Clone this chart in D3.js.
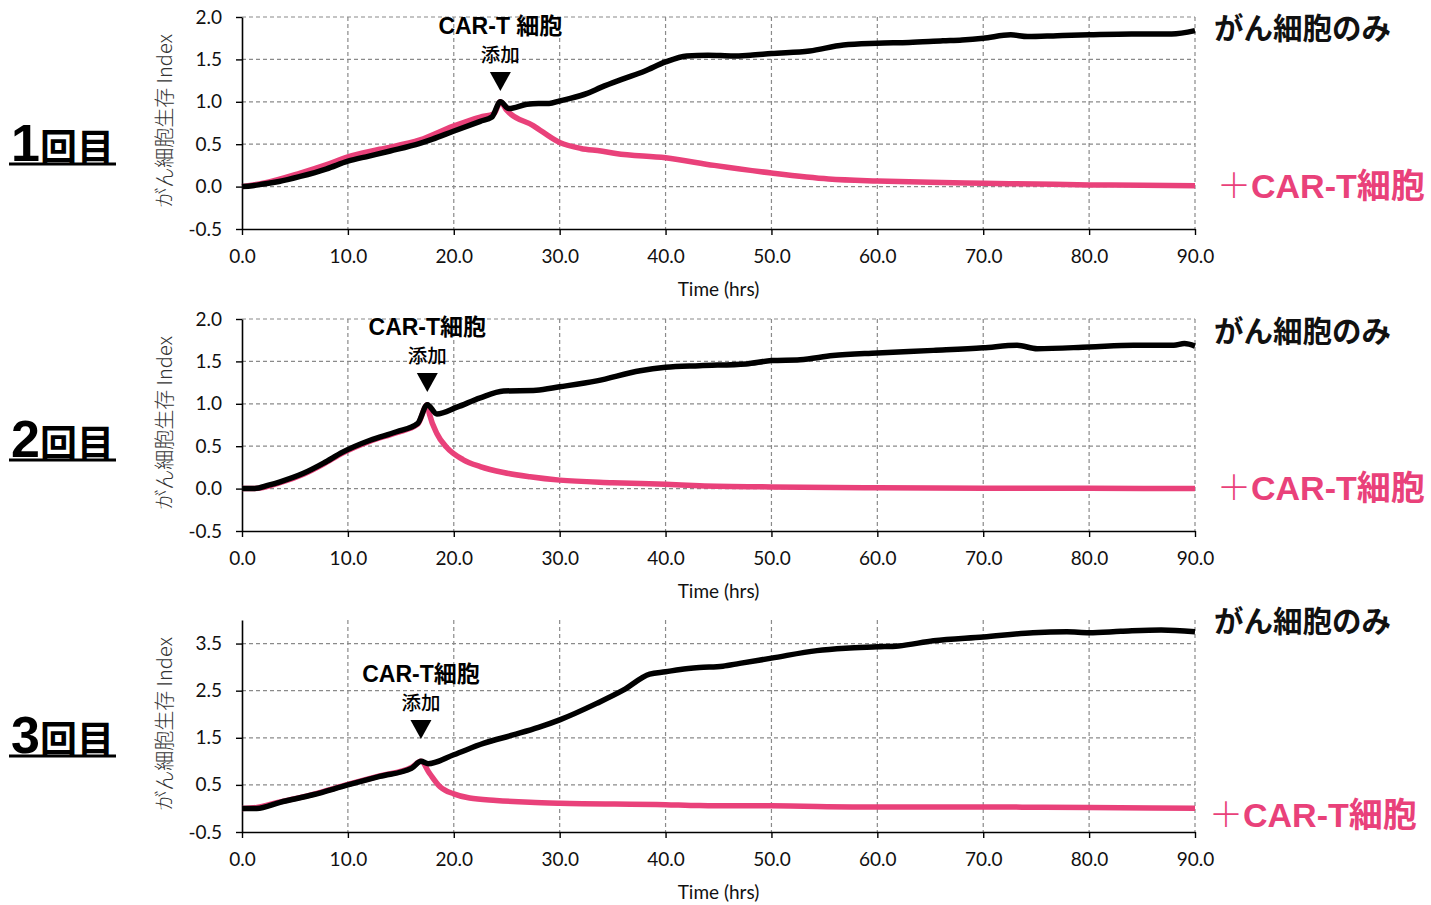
<!DOCTYPE html>
<html>
<head>
<meta charset="utf-8">
<script src="https://cdn.jsdelivr.net/npm/d3@7"></script>
<style>
  body { margin: 0; background: #fff; }
  svg { display: block; }
</style>
</head>
<body>
<svg width="1431" height="905"></svg>
<script>
// time points (hrs) and index values
const r1Time  = [0, 1, 2, 3.5, 5.5, 8, 10, 12, 14, 16.8, 18, 19.9, 22.5, 23.6, 24.4, 25.2, 26.9, 28, 29, 30, 31, 32.6, 33.9, 36, 38, 40, 42, 44, 46.4, 48, 50, 53.6, 56.8, 60, 63, 66.2, 68, 70, 72.6, 74.2, 77, 80, 84, 87.8, 90];
const r1Cancer = [0, 0.01, 0.03, 0.06, 0.12, 0.21, 0.3, 0.36, 0.42, 0.51, 0.56, 0.65, 0.77, 0.82, 1.0, 0.92, 0.97, 0.98, 0.98, 1.01, 1.04, 1.1, 1.17, 1.27, 1.36, 1.47, 1.54, 1.55, 1.54, 1.55, 1.57, 1.6, 1.67, 1.69, 1.7, 1.72, 1.73, 1.75, 1.79, 1.77, 1.78, 1.79, 1.8, 1.8, 1.84];
const r1CarTime = [0, 2, 5.5, 8, 10, 13, 16.8, 19.9, 22.5, 23.8, 24.4, 25, 27.5, 30, 32, 33.9, 35.3, 40, 44.6, 50, 55.4, 60, 65, 70, 75, 80, 85, 90];
const r1CarT   = [0, 0.04, 0.16, 0.26, 0.35, 0.44, 0.55, 0.71, 0.82, 0.86, 1.0, 0.9, 0.72, 0.52, 0.45, 0.42, 0.39, 0.34, 0.25, 0.16, 0.09, 0.066, 0.05, 0.04, 0.03, 0.02, 0.015, 0.01];

const r2Time  = [0, 1.2, 2.5, 3.6, 5.8, 7.7, 9.5, 12.1, 14.6, 16.6, 17.5, 18.4, 20.3, 22.5, 24.7, 27.8, 30, 33.5, 37.6, 40, 43.2, 47.6, 50, 52.7, 55.8, 60, 65.3, 70, 73.2, 75.1, 80, 84.2, 88, 89, 90];
const r2Cancer = [0, 0, 0.04, 0.08, 0.18, 0.3, 0.43, 0.57, 0.67, 0.77, 0.99, 0.88, 0.96, 1.07, 1.15, 1.16, 1.2, 1.27, 1.39, 1.43, 1.45, 1.47, 1.51, 1.52, 1.57, 1.6, 1.63, 1.66, 1.69, 1.65, 1.67, 1.69, 1.69, 1.71, 1.68];
const r2CarTime = [0, 1.2, 3.6, 5.8, 7.7, 9.5, 12.1, 14.6, 16.6, 17.5, 17.7, 18.4, 19.3, 20.9, 22.5, 24.7, 27.2, 30, 35, 40, 43.2, 50, 60, 70, 80, 90];
const r2CarT   = [0, 0, 0.07, 0.17, 0.29, 0.42, 0.56, 0.66, 0.76, 0.99, 0.88, 0.65, 0.49, 0.34, 0.26, 0.19, 0.14, 0.1, 0.07, 0.05, 0.035, 0.02, 0.01, 0.005, 0.003, 0];

const r3Time  = [0, 1.4, 3.6, 6.7, 10, 13, 16, 16.9, 17.6, 20, 22.8, 25.6, 28, 30, 33.5, 36, 38.5, 40, 41.4, 43.2, 45.4, 47, 50, 54.3, 57, 60, 62, 65.3, 70, 74.7, 77.9, 80, 83, 86.8, 90];
const r3Cancer = [0, 0, 0.13, 0.29, 0.5, 0.68, 0.85, 1.0, 0.95, 1.14, 1.38, 1.56, 1.72, 1.88, 2.23, 2.51, 2.85, 2.9, 2.95, 2.99, 3.02, 3.08, 3.19, 3.35, 3.4, 3.43, 3.45, 3.56, 3.64, 3.73, 3.75, 3.73, 3.76, 3.79, 3.75];
const r3CarTime = [0, 1.4, 3.6, 6.7, 10, 13, 16, 16.9, 17.7, 18.7, 20, 21.5, 24, 27.2, 30, 40, 43.2, 50, 60, 70, 80, 90];
const r3CarT   = [0, 0.02, 0.14, 0.3, 0.51, 0.69, 0.87, 1.0, 0.75, 0.46, 0.31, 0.22, 0.17, 0.13, 0.11, 0.08, 0.06, 0.055, 0.03, 0.03, 0.02, 0.005];

const xTicks = [0, 10, 20, 30, 40, 50, 60, 70, 80, 90];
const yTicksA = [-0.5, 0, 0.5, 1.0, 1.5, 2.0];
const yTicksB = [-0.5, 0.5, 1.5, 2.5, 3.5];
const rowLabels = ["1回目", "2回目", "3回目"];
const addTimes = [24.4, 17.5, 16.9];
const addLabels = ["CAR-T 細胞", "CAR-T細胞", "CAR-T細胞"];

const PINK = "#e9417a";
const latin = "Lato, 'Noto Sans CJK JP', sans-serif";
const jp = "'Noto Sans CJK JP', sans-serif";
const boldFont = "'Liberation Sans', Arial, 'Noto Sans CJK JP', sans-serif";
const fmt = d => d.toFixed(1);   // keep the plain hyphen for -0.5

const svg = d3.select("svg");
const left = 242, right = 1195, plotH = 212;

const panels = [
  {top: 17,  yDomain: [-0.5, 2.0], yTicks: yTicksA,
   time: r1Time, cancer: r1Cancer, carTime: r1CarTime, carT: r1CarT,
   rowBase: 161, annY: 34, cancerLblY: 39, carLblY: 198, carLblX: 1217},
  {top: 319, yDomain: [-0.5, 2.0], yTicks: yTicksA,
   time: r2Time, cancer: r2Cancer, carTime: r2CarTime, carT: r2CarT,
   rowBase: 457, annY: 335, cancerLblY: 342, carLblY: 500, carLblX: 1217},
  {top: 620, yDomain: [-0.5, 4.0], yTicks: yTicksB,
   time: r3Time, cancer: r3Cancer, carTime: r3CarTime, carT: r3CarT,
   rowBase: 753, annY: 682, cancerLblY: 632, carLblY: 827, carLblX: 1209}
];

const x = d3.scaleLinear().domain([0, 90]).range([left, right]);

panels.forEach((p, i) => {
  const y = d3.scaleLinear().domain(p.yDomain).range([p.top + plotH, p.top]);
  const g = svg.append("g");

  // dashed grid
  const hLines = p.yTicks.filter(v => v > p.yDomain[0]);
  g.selectAll(".hgrid").data(hLines).enter().append("line")
    .attr("x1", left).attr("x2", right)
    .attr("y1", d => y(d)).attr("y2", d => y(d))
    .attr("stroke", "#8a8a8a").attr("stroke-width", 1.2).attr("stroke-dasharray", "4,3");
  g.selectAll(".vgrid").data(xTicks.filter(v => v > 0)).enter().append("line")
    .attr("x1", d => x(d)).attr("x2", d => x(d))
    .attr("y1", p.top).attr("y2", p.top + plotH)
    .attr("stroke", "#8a8a8a").attr("stroke-width", 1.2).attr("stroke-dasharray", "4,3");

  // axes
  const xAxis = g.append("g")
    .attr("transform", `translate(0,${p.top + plotH})`)
    .call(d3.axisBottom(x).tickValues(xTicks).tickFormat(fmt).tickSize(6).tickPadding(15).tickSizeOuter(0));
  const yAxis = g.append("g")
    .attr("transform", `translate(${left},0)`)
    .call(d3.axisLeft(y).tickValues(p.yTicks).tickFormat(fmt).tickSize(6).tickPadding(14).tickSizeOuter(0));
  [xAxis, yAxis].forEach(a => {
    a.select(".domain").attr("stroke", "#000").attr("stroke-width", 1.6);
    a.selectAll(".tick line").attr("stroke", "#000").attr("stroke-width", 1.4);
    a.selectAll("text").attr("font-family", latin).attr("font-size", 19).attr("fill", "#111");
  });

  g.append("text")
    .attr("x", (left + right) / 2).attr("y", p.top + plotH + 67)
    .attr("text-anchor", "middle")
    .attr("font-family", latin).attr("font-size", 19).attr("fill", "#111")
    .text("Time (hrs)");

  g.append("text")
    .attr("transform", `translate(172,${p.top + plotH / 2 - 2}) rotate(-90)`)
    .attr("text-anchor", "middle")
    .attr("font-family", jp).attr("font-size", 20).attr("font-weight", 300).attr("fill", "#333")
    .text("がん細胞生存 Index");

  // series
  const line = d3.line().x(d => x(d[0])).y(d => y(d[1])).curve(d3.curveMonotoneX);
  const pinkPts = p.carTime.map((t, k) => [t, p.carT[k]]);
  const blackPts = p.time.map((t, k) => [t, p.cancer[k]]);
  g.append("path").datum(pinkPts).attr("d", line)
    .attr("fill", "none").attr("stroke", PINK).attr("stroke-width", 5.5)
    .attr("stroke-linejoin", "round");
  g.append("path").datum(blackPts).attr("d", line)
    .attr("fill", "none").attr("stroke", "#000").attr("stroke-width", 5.5)
    .attr("stroke-linejoin", "round");

  // addition annotation
  const ax = x(addTimes[i]);
  g.append("text")
    .attr("x", ax).attr("y", p.annY)
    .attr("text-anchor", "middle")
    .attr("font-family", boldFont).attr("font-weight", "bold").attr("font-size", 23)
    .text(addLabels[i]);
  g.append("text")
    .attr("x", ax).attr("y", p.annY + 28)
    .attr("text-anchor", "middle")
    .attr("font-family", jp).attr("font-weight", 500).attr("font-size", 19.5)
    .text("添加");
  const triTop = p.annY + 38;
  g.append("path")
    .attr("d", `M${ax - 10.5},${triTop}L${ax + 10.5},${triTop}L${ax},${triTop + 19}Z`)
    .attr("fill", "#000");

  // series labels on the right
  g.append("text")
    .attr("x", 1214).attr("y", p.cancerLblY)
    .attr("font-family", jp).attr("font-weight", "bold").attr("font-size", 29.5)
    .attr("fill", "#111")
    .text("がん細胞のみ");
  const cl = g.append("text")
    .attr("x", p.carLblX).attr("y", p.carLblY)
    .attr("font-family", boldFont).attr("font-weight", "bold").attr("font-size", 34)
    .attr("fill", PINK);
  cl.append("tspan").attr("font-family", jp).attr("font-weight", 300).text("＋");
  cl.append("tspan").text("CAR-T");
  cl.append("tspan").attr("font-family", jp).text("細胞");

  // row label with underline
  const rl = g.append("text")
    .attr("x", 11).attr("y", p.rowBase)
    .attr("font-family", boldFont).attr("font-weight", "bold").attr("fill", "#000");
  rl.append("tspan").attr("font-size", 52).text(rowLabels[i].charAt(0));
  rl.append("tspan").attr("font-family", jp).attr("font-size", 37).text(rowLabels[i].slice(1));
  g.append("line")
    .attr("x1", 9).attr("x2", 116)
    .attr("y1", p.rowBase + 3).attr("y2", p.rowBase + 3)
    .attr("stroke", "#000").attr("stroke-width", 3);
});
</script>
</body>
</html>
